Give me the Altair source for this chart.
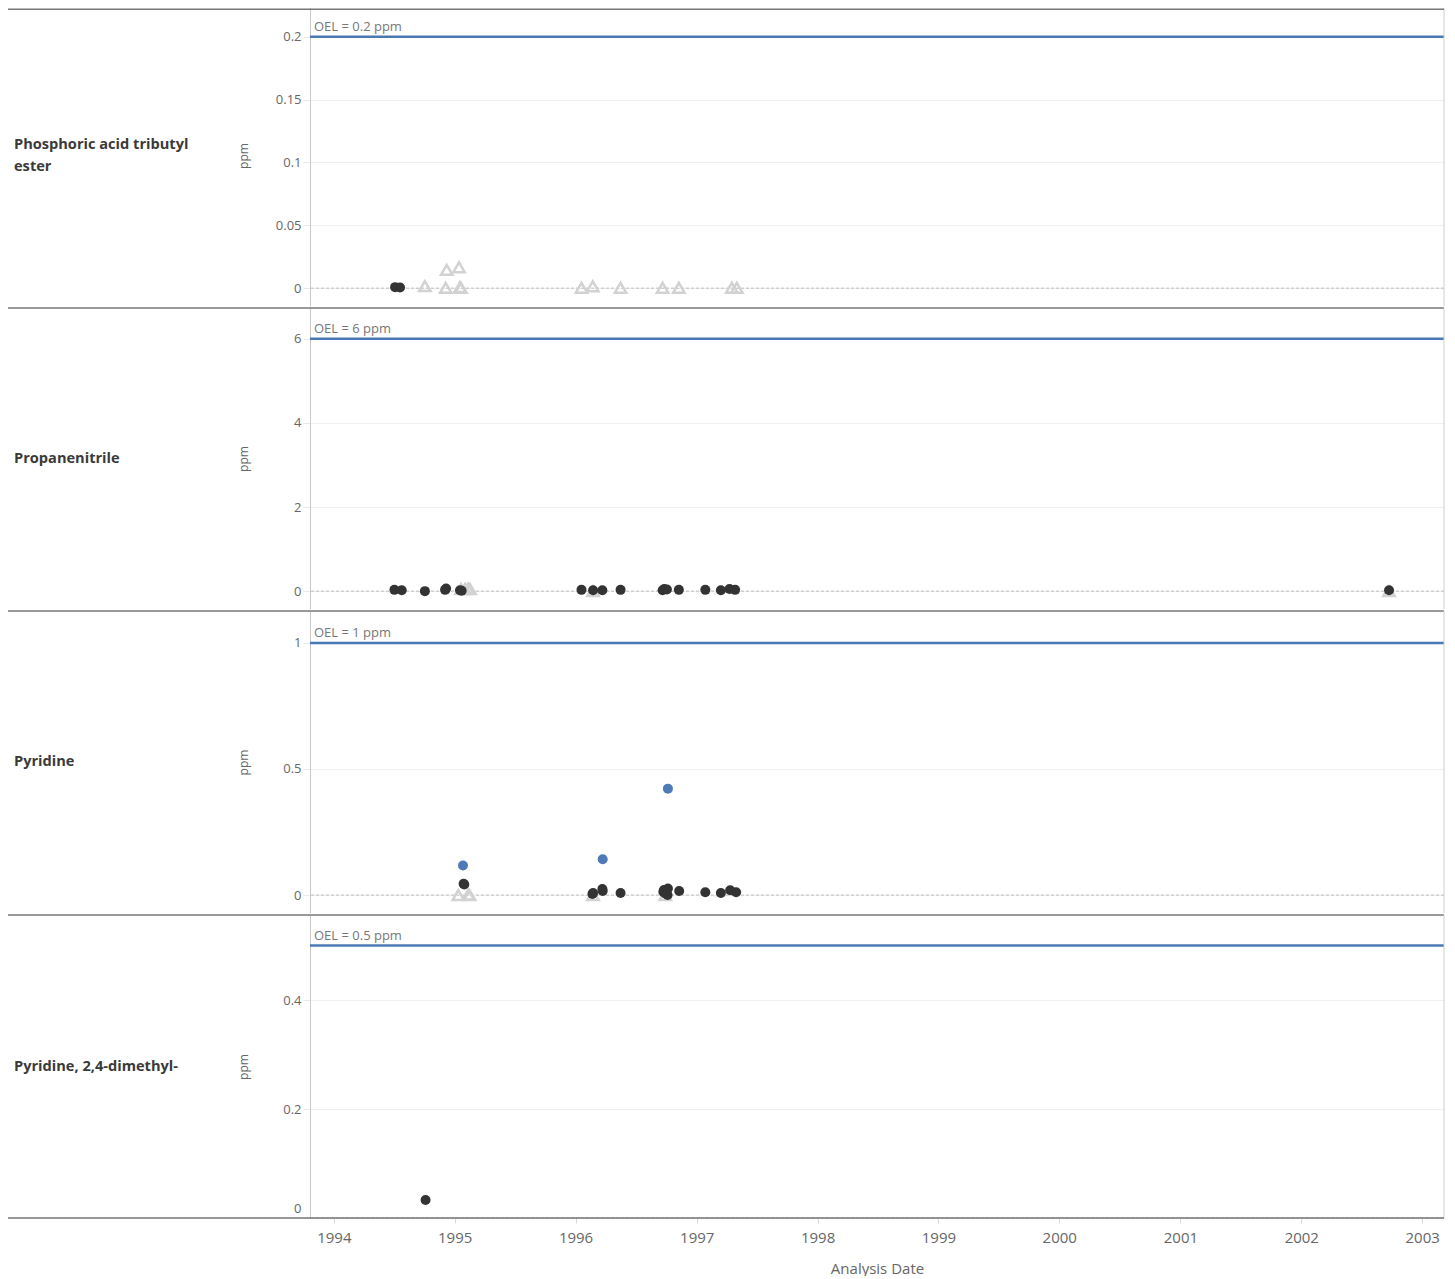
import altair as alt
import pandas as pd

# ---------------- data ----------------
panel_names = ["Phosphoric acid tributyl ester", "Propanenitrile", "Pyridine", "Pyridine, 2,4-dimethyl-"]
panel_labels = ["Phosphoric acid tributyl\nester", "Propanenitrile", "Pyridine", "Pyridine, 2,4-dimethyl-"]
oel_values = [0.2, 6, 1, 0.5]
oel_texts = ["OEL = 0.2 ppm", "OEL = 6 ppm", "OEL = 1 ppm", "OEL = 0.5 ppm"]
y_domains = [[-0.0142, 0.2253], [-0.425, 6.733], [-0.0711, 1.1265], [0, 0.556]]
y_ticks = [[0, 0.05, 0.1, 0.15, 0.2], [0, 2, 4, 6], [0, 0.5, 1], [0, 0.2, 0.4]]

# Phosphoric acid tributyl ester
tbp_det_dates = ["1994-07-05", "1994-07-20"]
tbp_det_values = [0.0008, 0.0005]
tbp_nd_dates = ["1994-10-03", "1994-12-05", "1994-12-08", "1995-01-14", "1995-01-17", "1995-01-20",
                "1996-01-19", "1996-02-22", "1996-05-16", "1996-09-20", "1996-11-08", "1997-04-17", "1997-05-02"]
tbp_nd_values = [0.0016, 0.0002, 0.0145, 0.0166, 0.0008, 0.0002,
                 0.0003, 0.0015, 0.0003, 0.0003, 0.0003, 0.0003, 0.0003]
tbp_hi_dates = []
tbp_hi_values = []

# Propanenitrile
prn_det_dates = ["1994-07-03", "1994-07-25", "1994-10-03", "1994-12-03", "1994-12-06", "1995-01-17", "1995-01-22",
                 "1996-01-19", "1996-02-23", "1996-03-22", "1996-05-16", "1996-09-20", "1996-09-25", "1996-10-03",
                 "1996-11-08", "1997-01-27", "1997-03-15", "1997-04-10", "1997-04-27", "2002-09-23"]
prn_det_values = [0.03, 0.02, 0.0, 0.03, 0.06, 0.02, 0.01,
                  0.03, 0.02, 0.02, 0.03, 0.02, 0.05, 0.04,
                  0.03, 0.03, 0.02, 0.05, 0.03, 0.02]
prn_nd_dates = ["1995-01-20", "1995-02-01", "1995-02-10", "1995-02-16", "1996-02-23", "2002-09-23"]
prn_nd_values = [0.05, 0.05, 0.06, 0.05, 0.0, 0.0]
prn_hi_dates = []
prn_hi_values = []

# Pyridine
pyr_det_dates = ["1995-01-28", "1995-01-30", "1996-02-21", "1996-02-23", "1996-03-22", "1996-03-23", "1996-05-16",
                 "1996-09-22", "1996-09-24", "1996-09-28", "1996-10-05", "1996-10-06", "1996-11-09",
                 "1997-01-27", "1997-03-15", "1997-04-12", "1997-04-30"]
pyr_det_values = [0.045, 0.042, 0.004, 0.008, 0.024, 0.016, 0.008,
                  0.013, 0.020, 0.006, 0.0, 0.026, 0.016,
                  0.011, 0.008, 0.019, 0.011]
pyr_nd_dates = ["1995-01-12", "1995-02-11", "1995-02-15", "1996-02-23", "1996-09-28"]
pyr_nd_values = [0.0, 0.002, 0.0, 0.0, 0.0]
pyr_hi_dates = ["1995-01-26", "1996-03-23", "1996-10-06"]
pyr_hi_values = [0.117, 0.142, 0.422]

# Pyridine, 2,4-dimethyl-
dmp_det_dates = ["1994-10-05"]
dmp_det_values = [0.033]
dmp_nd_dates = []
dmp_nd_values = []
dmp_hi_dates = []
dmp_hi_values = []

series = [
    (tbp_det_dates, tbp_det_values, tbp_nd_dates, tbp_nd_values, tbp_hi_dates, tbp_hi_values),
    (prn_det_dates, prn_det_values, prn_nd_dates, prn_nd_values, prn_hi_dates, prn_hi_values),
    (pyr_det_dates, pyr_det_values, pyr_nd_dates, pyr_nd_values, pyr_hi_dates, pyr_hi_values),
    (dmp_det_dates, dmp_det_values, dmp_nd_dates, dmp_nd_values, dmp_hi_dates, dmp_hi_values),
]

# ---------------- layout / style ----------------
W = 1134
HEIGHTS = [301, 301, 302, 303]
LEFT = -302
FONT = "Open Sans"
X_DOMAIN = [alt.DateTime(year=1993, month=10, date=21), alt.DateTime(year=2003, month=3, date=8)]

DARK = "#333333"
BLUE = "#4e7ab8"
GREY_TRI = "#d2d2d2"
SEP = "#777777"


def make_panel(i, bottom):
    H = HEIGHTS[i]
    det_d, det_v, nd_d, nd_v, hi_d, hi_v = series[i]
    rows = ([{"date": d, "value": v, "kind": "det"} for d, v in zip(det_d, det_v)]
            + [{"date": d, "value": v, "kind": "nd"} for d, v in zip(nd_d, nd_v)]
            + [{"date": d, "value": v, "kind": "hi"} for d, v in zip(hi_d, hi_v)])
    df = pd.DataFrame(rows)

    if bottom:
        xaxis = alt.Axis(format="%Y", tickCount="year", title="Analysis Date",
                         labelFontSize=15, labelColor="#666666", labelFont=FONT, labelPadding=7,
                         tickColor="#d9d9d9", tickSize=5, domain=False, grid=False,
                         titleFontSize=15, titleColor="#666666", titleFont=FONT, titleFontWeight="normal",
                         titlePadding=16)
    else:
        xaxis = None

    yscale = alt.Scale(domain=y_domains[i], nice=False, zero=False)
    yaxis = alt.Axis(values=y_ticks[i], format="~g", title="ppm",
                     titleX=-67, titleY=H / 2, titleBaseline="middle",
                     titleFontSize=12, titleColor="#666666", titleFont=FONT,
                     titleFontWeight="normal",
                     labelFontSize=13, labelColor="#666666", labelFont=FONT,
                     labelPadding=2, labelFlush=True, labelFlushOffset=-3,
                     tickSize=7, tickColor="#e8e8e8",
                     domainColor="#c8c8c8", gridColor="#efefef")
    x_enc = alt.X("date:T", scale=alt.Scale(domain=X_DOMAIN), axis=xaxis)

    oel_df = pd.DataFrame({"oel": [oel_values[i]], "label": [oel_texts[i]], "zero": [0],
                           "name": [panel_labels[i]]})

    zero = alt.Chart(oel_df).mark_rule(color="#bdbdbd", strokeDash=[3, 2], strokeWidth=1).encode(
        y=alt.Y("zero:Q", scale=yscale, axis=yaxis))
    oel_line = alt.Chart(oel_df).mark_rule(color="#4a78b5", strokeWidth=2.5).encode(
        y=alt.Y("oel:Q", scale=yscale, axis=yaxis))
    oel_text = alt.Chart(oel_df).mark_text(
        align="left", baseline="bottom", dx=4, dy=-3, fontSize=13, color="#777777", font=FONT).encode(
        y=alt.Y("oel:Q", scale=yscale, axis=yaxis), x=alt.value(0), text="label:N")

    base = alt.Chart(df).encode(x=x_enc, y=alt.Y("value:Q", scale=yscale, axis=yaxis))
    tri = base.transform_filter("datum.kind == 'nd'").mark_point(
        shape="triangle-up", filled=False, color=GREY_TRI, strokeWidth=2.5, size=130, opacity=1)
    det = base.transform_filter("datum.kind == 'det'").mark_circle(color=DARK, size=100, opacity=1)
    hi = base.transform_filter("datum.kind == 'hi'").mark_circle(color=BLUE, size=100, opacity=1)

    sep_top = alt.Chart(oel_df).mark_rule(color=SEP, strokeWidth=1.5).encode(
        x=alt.value(LEFT), x2=alt.value(W), y=alt.value(0))
    right_border = alt.Chart(oel_df).mark_rule(color="#cfcfcf", strokeWidth=1).encode(
        x=alt.value(W), y=alt.value(0), y2=alt.value(H))

    nlines = panel_labels[i].count("\n") + 1
    label = alt.Chart(oel_df).mark_text(
        align="left", baseline="middle", fontSize=14.6, fontWeight="bold", color="#3a3a3a",
        font=FONT, lineHeight=22, lineBreak="\n").encode(
        x=alt.value(-296), y=alt.value(H / 2 - (nlines - 1) * 11), text="name:N")

    layers = [zero, oel_line, oel_text, tri, det, hi, sep_top, right_border, label]
    if i == 0:
        # top frame line kept inside the visible page area
        frame_top = alt.Chart(oel_df).mark_rule(color=SEP, strokeWidth=1.5).encode(
            x=alt.value(LEFT), x2=alt.value(W), y=alt.value(4.2))
        layers.append(frame_top)
    if bottom:
        sep_bot = alt.Chart(oel_df).mark_rule(color=SEP, strokeWidth=1.5).encode(
            x=alt.value(LEFT), x2=alt.value(W), y=alt.value(H))
        layers.append(sep_bot)

    return alt.layer(*layers).properties(width=W, height=H)


panels = [make_panel(i, i == 3) for i in range(4)]

chart = (alt.vconcat(*panels, spacing=0)
         .properties(padding={"left": -1, "top": -4, "right": 0, "bottom": 0})
         .configure(font=FONT)
         .configure_view(stroke=None))

chart.save("out.html", embed_options={"renderer": "svg", "actions": False})
